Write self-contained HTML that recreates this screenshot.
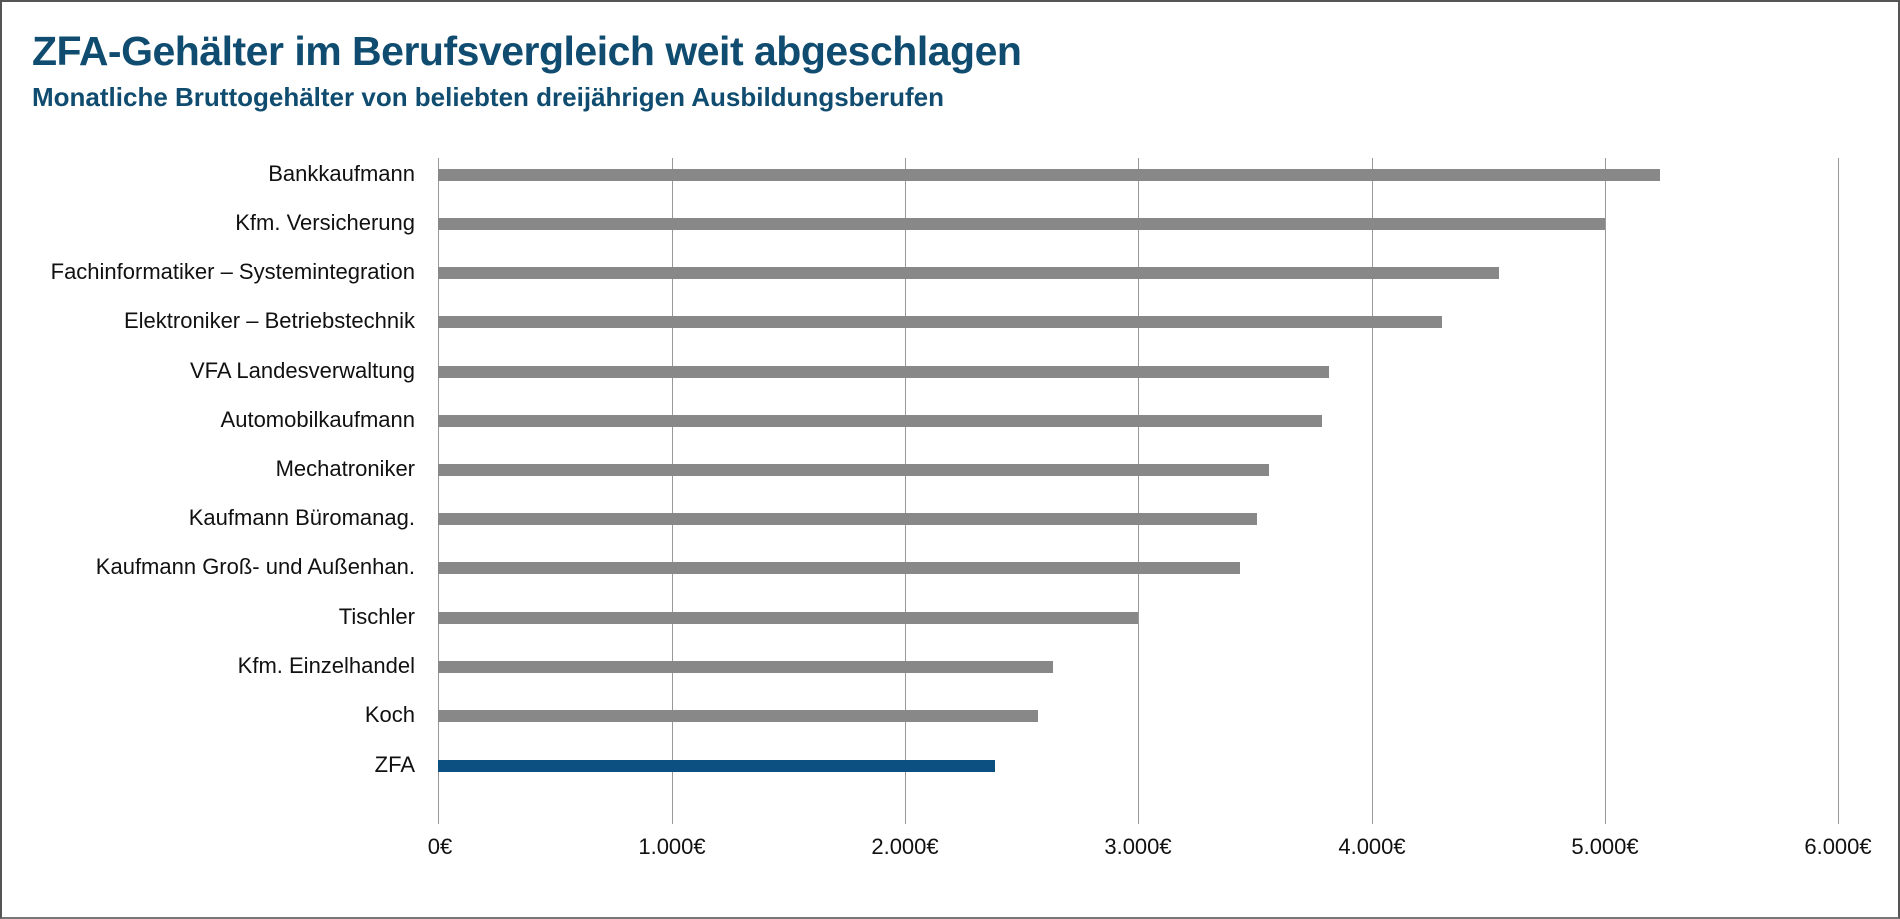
<!DOCTYPE html>
<html><head><meta charset="utf-8"><style>
body{margin:0;width:1900px;height:919px;background:#fff;overflow:hidden;font-family:"Liberation Sans",sans-serif}
.frame{position:absolute;left:0;top:0;width:1896px;height:915px;border:2px solid #555;border-bottom-color:#777}
.t{position:absolute;left:32px;top:28px;font-size:41px;font-weight:bold;color:#0f4c70;letter-spacing:-0.5px}
.s{position:absolute;left:32px;top:82px;font-size:26px;font-weight:bold;color:#0f4c70}
.g{position:absolute;top:158px;height:666px;width:1px;background:#999}
.b{position:absolute;left:438px;height:12px;background:#888}
.l{position:absolute;right:1485px;font-size:22px;color:#111;white-space:nowrap;line-height:22px}
.x{position:absolute;top:834px;font-size:22px;color:#111;transform:translateX(-50%)}
</style></head><body>
<div class="frame"></div>
<div class="t">ZFA-Gehälter im Berufsvergleich weit abgeschlagen</div>
<div class="s">Monatliche Bruttogehälter von beliebten dreijährigen Ausbildungsberufen</div>
<div class="g" style="left:438px"></div><div class="g" style="left:672px"></div><div class="g" style="left:905px"></div><div class="g" style="left:1138px"></div><div class="g" style="left:1372px"></div><div class="g" style="left:1605px"></div><div class="g" style="left:1838px"></div>
<div class="b" style="top:169px;width:1222px"></div><div class="l" style="top:163px">Bankkaufmann</div>
<div class="b" style="top:218px;width:1167px"></div><div class="l" style="top:212px">Kfm. Versicherung</div>
<div class="b" style="top:267px;width:1061px"></div><div class="l" style="top:261px">Fachinformatiker – Systemintegration</div>
<div class="b" style="top:316px;width:1004px"></div><div class="l" style="top:310px">Elektroniker – Betriebstechnik</div>
<div class="b" style="top:366px;width:891px"></div><div class="l" style="top:360px">VFA Landesverwaltung</div>
<div class="b" style="top:415px;width:884px"></div><div class="l" style="top:409px">Automobilkaufmann</div>
<div class="b" style="top:464px;width:831px"></div><div class="l" style="top:458px">Mechatroniker</div>
<div class="b" style="top:513px;width:819px"></div><div class="l" style="top:507px">Kaufmann Büromanag.</div>
<div class="b" style="top:562px;width:802px"></div><div class="l" style="top:556px">Kaufmann Groß- und Außenhan.</div>
<div class="b" style="top:612px;width:700px"></div><div class="l" style="top:606px">Tischler</div>
<div class="b" style="top:661px;width:615px"></div><div class="l" style="top:655px">Kfm. Einzelhandel</div>
<div class="b" style="top:710px;width:600px"></div><div class="l" style="top:704px">Koch</div>
<div class="b" style="top:760px;width:557px;background:#0b5080"></div><div class="l" style="top:754px">ZFA</div>
<div class="x" style="left:440px">0€</div><div class="x" style="left:672px">1.000€</div><div class="x" style="left:905px">2.000€</div><div class="x" style="left:1138px">3.000€</div><div class="x" style="left:1372px">4.000€</div><div class="x" style="left:1605px">5.000€</div><div class="x" style="left:1838px">6.000€</div>
</body></html>
